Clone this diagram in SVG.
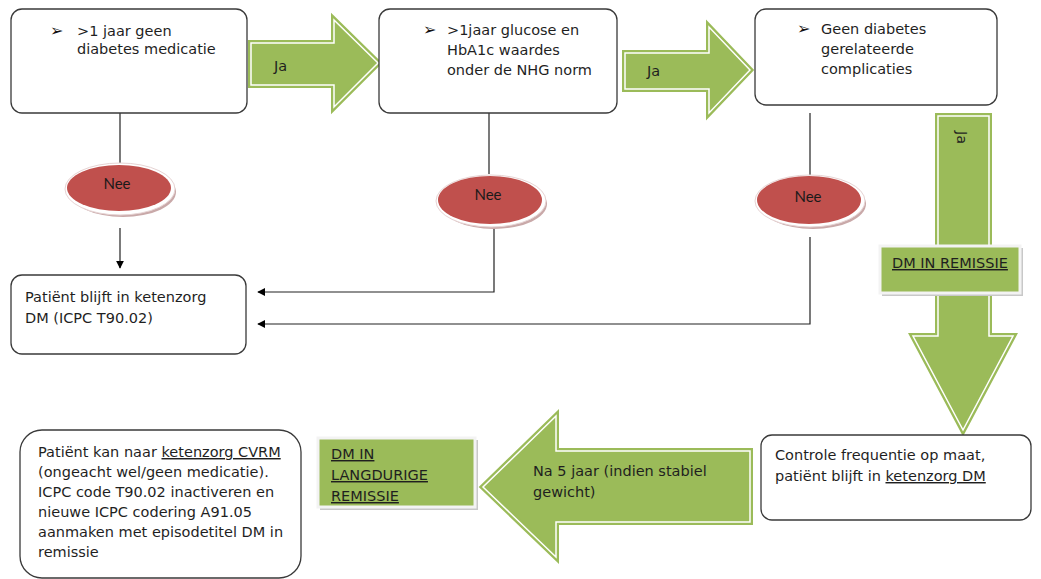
<svg xmlns="http://www.w3.org/2000/svg" width="1041" height="579" viewBox="0 0 1041 579">
<defs>
<marker id="ah" viewBox="0 0 10 10" refX="9" refY="5" markerWidth="8" markerHeight="8" markerUnits="userSpaceOnUse" orient="auto">
<path d="M0,0 L10,5 L0,10 z" fill="#000"/>
</marker>
</defs>
<style>
.box{fill:#fff;stroke:#3a3a3a;stroke-width:1.3}
.t{font-family:"DejaVu Sans",Verdana,sans-serif;font-size:14.5px;fill:#1f1f1f}
.b{font-family:"DejaVu Sans",sans-serif;font-size:16px;fill:#111}
.nee{font-family:Lato,"Open Sans",sans-serif;font-size:15px;fill:#1a1a1a;text-anchor:middle}
.ga{fill:#9bbb59;stroke:#9bbb59;stroke-width:6;stroke-linejoin:miter}
.gw{fill:none;stroke:#fff;stroke-width:1.5}
.red{fill:#c0504d}
.rim{fill:#fff;stroke:#e6d3d3;stroke-width:1}
.sh{fill:#c9a9a9}
.gb{fill:#9bbb59;stroke:#f3f3f3;stroke-width:3}
.gs{fill:#c8c8c8}
.ln{fill:none;stroke:#222;stroke-width:1.2}
.u{text-decoration:underline}
</style>

<g id="connectors">
<path class="ln" d="M120,113 V166"/>
<path class="ln" d="M120,228 V268" marker-end="url(#ah)"/>
<path class="ln" d="M489,113 V174"/>
<path class="ln" d="M494,228 V292 H258" marker-end="url(#ah)"/>
<path class="ln" d="M810,113 V178"/>
<path class="ln" d="M810,237 V324 H258" marker-end="url(#ah)"/>
</g>

<g id="arrow-ja-1">
<path class="ga" d="M251,43 H334 V20 L378,63 L334,107 V85 H251 Z"/>
<path class="gw" d="M251,43 H334 V20 L378,63 L334,107 V85 H251 Z"/>
<text class="t" x="274" y="71">Ja</text>
</g>
<g id="arrow-ja-2">
<path class="ga" d="M625,53 H709 V27 L750,70 L709,113 V89 H625 Z"/>
<path class="gw" d="M625,53 H709 V27 L750,70 L709,113 V89 H625 Z"/>
<text class="t" x="647" y="76">Ja</text>
</g>
<g id="arrow-ja-3">
<path class="ga" d="M938,116 H989 V336 H1013 L963,430 L913,336 H938 Z"/>
<path class="gw" d="M938,116 H989 V336 H1013 L963,430 L913,336 H938 Z"/>
<text class="t" transform="translate(957,131) rotate(90)">Ja</text>
</g>
<g id="arrow-na5">
<path class="ga" d="M750,451 H556 V416 L483,487 L556,557 V522 H750 Z"/>
<path class="gw" d="M750,451 H556 V416 L483,487 L556,557 V522 H750 Z"/>
<text class="t" x="533" y="476">Na 5 jaar (indien stabiel</text>
<text class="t" x="533" y="497">gewicht)</text>
</g>

<g id="node-geen-medicatie">
<rect class="box" x="11" y="9" width="236" height="104" rx="11"/>
<text class="b" x="50" y="36">➢</text>
<text class="t" x="77" y="36">&gt;1 jaar geen</text>
<text class="t" x="77" y="54">diabetes medicatie</text>
</g>
<g id="node-glucose">
<rect class="box" x="379" y="9" width="238" height="104" rx="11"/>
<text class="b" x="423" y="35">➢</text>
<text class="t" x="447" y="35">&gt;1jaar glucose en</text>
<text class="t" x="447" y="55">HbA1c waardes</text>
<text class="t" x="447" y="75">onder de NHG norm</text>
</g>
<g id="node-complicaties">
<rect class="box" x="755" y="9" width="242" height="96" rx="11"/>
<text class="b" x="797" y="34">➢</text>
<text class="t" x="821" y="34">Geen diabetes</text>
<text class="t" x="821" y="54">gerelateerde</text>
<text class="t" x="821" y="74">complicaties</text>
</g>

<g id="nee-1">
<ellipse class="sh" cx="123" cy="192" rx="53" ry="25"/>
<ellipse class="rim" cx="120" cy="189" rx="55" ry="26"/>
<ellipse class="red" cx="119" cy="188" rx="52" ry="23"/>
<text class="nee" x="117" y="189">Nee</text>
</g>
<g id="nee-2">
<ellipse class="sh" cx="494" cy="204" rx="53" ry="25"/>
<ellipse class="rim" cx="491" cy="201" rx="55" ry="26"/>
<ellipse class="red" cx="490" cy="200" rx="52" ry="24"/>
<text class="nee" x="488" y="200">Nee</text>
</g>
<g id="nee-3">
<ellipse class="sh" cx="813" cy="204" rx="53" ry="25"/>
<ellipse class="rim" cx="810" cy="201" rx="55" ry="26"/>
<ellipse class="red" cx="809" cy="200" rx="52" ry="24"/>
<text class="nee" x="808" y="202">Nee</text>
</g>

<g id="node-blijft-ketenzorg">
<rect class="box" x="11" y="275" width="235" height="79" rx="11"/>
<text class="t" x="25" y="302">Patiënt blijft in ketenzorg</text>
<text class="t" x="25" y="323">DM (ICPC T90.02)</text>
</g>

<g id="node-dm-remissie">
<rect class="gs" x="882" y="248" width="141" height="48"/>
<rect class="gb" x="880" y="246" width="140" height="47"/>
<text class="t u" x="892" y="268">DM IN REMISSIE</text>
</g>

<g id="node-controle">
<rect class="box" x="761" y="435" width="270" height="85" rx="11"/>
<text class="t" x="775" y="460">Controle frequentie op maat,</text>
<text class="t" x="775" y="481">patiënt blijft in <tspan class="u">ketenzorg DM</tspan></text>
</g>

<g id="node-langdurige-remissie">
<rect class="gs" x="320" y="440" width="158" height="70"/>
<rect class="gb" x="318" y="438" width="157" height="69"/>
<text class="t u" x="331" y="459">DM IN</text>
<text class="t u" x="331" y="480">LANGDURIGE</text>
<text class="t u" x="331" y="501">REMISSIE</text>
</g>

<g id="node-cvrm">
<rect class="box" x="20" y="430" width="281" height="148" rx="22"/>
<text class="t" x="38" y="457">Patiënt kan naar <tspan class="u">ketenzorg CVRM</tspan></text>
<text class="t" x="38" y="477">(ongeacht wel/geen medicatie).</text>
<text class="t" x="38" y="497">ICPC code T90.02 inactiveren en</text>
<text class="t" x="38" y="517">nieuwe ICPC codering A91.05</text>
<text class="t" x="38" y="537">aanmaken met episodetitel DM in</text>
<text class="t" x="38" y="557">remissie</text>
</g>
</svg>
